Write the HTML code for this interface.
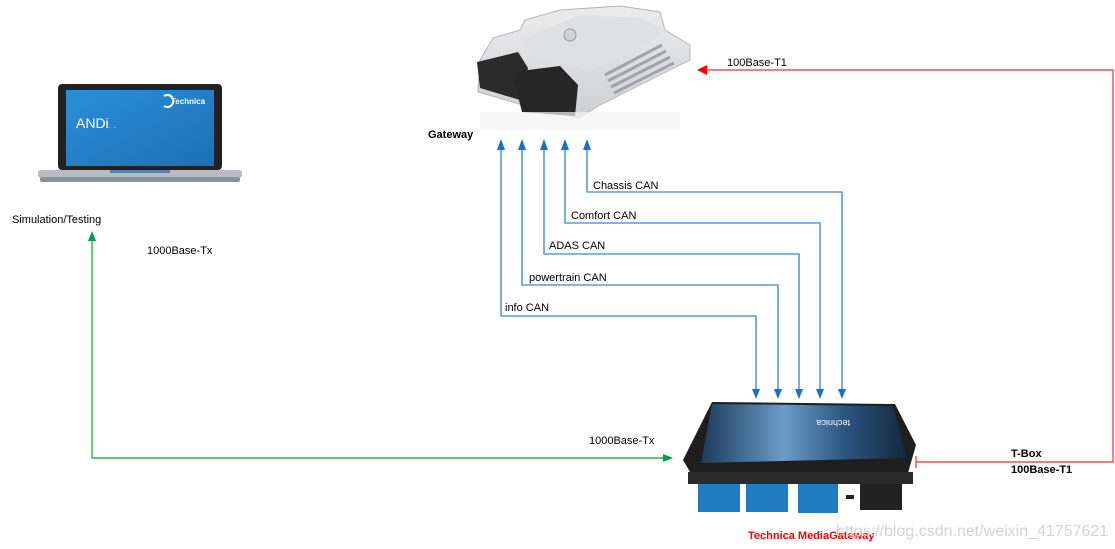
<!DOCTYPE html>
<html><head><meta charset="utf-8">
<style>
html,body{margin:0;padding:0;background:#fff;}
svg{display:block;}
text{font-family:"Liberation Sans",sans-serif;font-size:11px;fill:#000;}
.b{font-weight:bold;}
</style></head>
<body>
<svg width="1115" height="549" viewBox="0 0 1115 549" xmlns="http://www.w3.org/2000/svg">
<defs>
<linearGradient id="scr" x1="0" y1="0" x2="1" y2="1"><stop offset="0" stop-color="#2a8fd6"/><stop offset="1" stop-color="#1d6fb8"/></linearGradient>
<linearGradient id="mg" x1="0" y1="0" x2="1" y2="0"><stop offset="0" stop-color="#1b3a5a"/><stop offset="0.4" stop-color="#6a9cc8"/><stop offset="0.7" stop-color="#2a5580"/><stop offset="1" stop-color="#14283c"/></linearGradient>
<linearGradient id="al" x1="0" y1="0" x2="0" y2="1"><stop offset="0" stop-color="#ececed"/><stop offset="1" stop-color="#cfd0d2"/></linearGradient>
</defs>

<!-- ECU -->
<polygon points="493,38 520,30 525,20 560,10 620,6 660,12 665,30 690,45 690,60 600,105 580,118 540,110 478,92 480,60" fill="url(#al)" stroke="#b5b6b8" stroke-width="1"/>
<polygon points="520,40 580,15 640,18 665,30 640,50 590,70 535,58" fill="#dfe0e2"/>
<circle cx="570" cy="35" r="6" fill="#d2d4d7" stroke="#999"/>
<g stroke="#a2a4a7" stroke-width="3">
<line x1="605" y1="75" x2="662" y2="45"/><line x1="608" y1="81" x2="666" y2="51"/><line x1="611" y1="87" x2="670" y2="57"/><line x1="614" y1="93" x2="674" y2="63"/>
</g>
<polygon points="477,62 518,52 528,68 520,100 480,88" fill="#2b2b2b"/>
<polygon points="512,72 560,66 578,85 575,116 522,112" fill="#262626"/>
<rect x="480" y="112" width="200" height="18" fill="#f4f4f5" opacity="0.7"/>

<!-- Laptop -->
<rect x="58" y="84" width="164" height="86" rx="4" fill="#222"/>
<rect x="66" y="90" width="148" height="76" fill="url(#scr)"/>
<text x="76" y="128" style="font-size:14px;fill:#fff">ANDi</text>
<text x="108" y="128" style="font-size:10px;fill:#d8c020">. .</text>
<text x="171" y="104" style="font-size:8px;fill:#fff;font-weight:bold">Technica</text>
<path d="M164,96 a6,6 0 1 1 0,10" stroke="#fff" stroke-width="2" fill="none"/>
<rect x="38" y="170" width="204" height="8" rx="3" fill="#b9bcc0"/>
<rect x="40" y="177" width="200" height="5" rx="2" fill="#8d9094"/>
<rect x="110" y="170" width="60" height="3" fill="#5a7fa8"/>

<!-- MediaGateway -->
<polygon points="712,402 895,404 916,445 908,473 690,472 683,460" fill="#1e1e1e"/>
<polygon points="712,404 893,406 907,458 701,463" fill="url(#mg)"/>
<text x="820" y="428" transform="rotate(180 835 424)" style="font-size:9px;fill:#fff">technica</text>
<rect x="698" y="482" width="42" height="30" fill="#1f7cc0"/>
<rect x="746" y="482" width="42" height="30" fill="#1f7cc0"/>
<rect x="798" y="481" width="40" height="32" fill="#1f7cc0"/>
<rect x="860" y="484" width="42" height="26" fill="#222"/>
<rect x="846" y="495" width="8" height="4" fill="#222"/>
<rect x="688" y="472" width="225" height="12" fill="#2a2a2a"/>

<!-- Blue CAN lines -->
<g stroke="#5b9bd5" stroke-width="1.6" fill="none">
<polyline points="501,150 501,316 756,316 756,390"/>
<polyline points="522,150 522,285 778,285 778,390"/>
<polyline points="544,150 544,254 799,254 799,390"/>
<polyline points="565,150 565,223 820,223 820,390"/>
<polyline points="587,150 587,192 842,192 842,390"/>
</g>
<g fill="#1a6fc7">
<polygon points="501,139 497,150 505,150"/><polygon points="522,139 518,150 526,150"/><polygon points="544,139 540,150 548,150"/><polygon points="565,139 561,150 569,150"/><polygon points="587,139 583,150 591,150"/>
<polygon points="756,399 752,389 760,389"/><polygon points="778,399 774,389 782,389"/><polygon points="799,399 795,389 803,389"/><polygon points="820,399 816,389 824,389"/><polygon points="842,399 838,389 846,389"/>
</g>

<!-- Red -->
<g stroke="#f05050" stroke-width="1.4" fill="none">
<polyline points="706,70 1113,70 1113,462 916,462"/>
<line x1="916" y1="456" x2="916" y2="468"/>
</g>
<polygon points="697,70 707,65 707,75" fill="#f00"/>

<!-- Green -->
<polyline points="92,240 92,458 664,458" stroke="#2db34a" stroke-width="1.4" fill="none"/>
<polygon points="92,231 88,241 96,241" fill="#00a040"/>
<polygon points="673,458 663,454 663,462" fill="#00a040"/>

<!-- Labels -->
<text x="428" y="138" class="b">Gateway</text>
<text x="727" y="66">100Base-T1</text>
<text x="593" y="189">Chassis CAN</text>
<text x="571" y="219">Comfort CAN</text>
<text x="549" y="249">ADAS CAN</text>
<text x="529" y="281">powertrain CAN</text>
<text x="505" y="311">info CAN</text>
<text x="12" y="223">Simulation/Testing</text>
<text x="147" y="254">1000Base-Tx</text>
<text x="589" y="444">1000Base-Tx</text>
<text x="1011" y="457" class="b">T-Box</text>
<text x="1011" y="473" class="b">100Base-T1</text>
<text x="748" y="539" class="b" style="fill:#f00">Technica MediaGateway</text>
<text x="836" y="536" style="font-size:16px;fill:#d4d4d4">https://blog.csdn.net/weixin_41757621</text>
</svg>
</body></html>
